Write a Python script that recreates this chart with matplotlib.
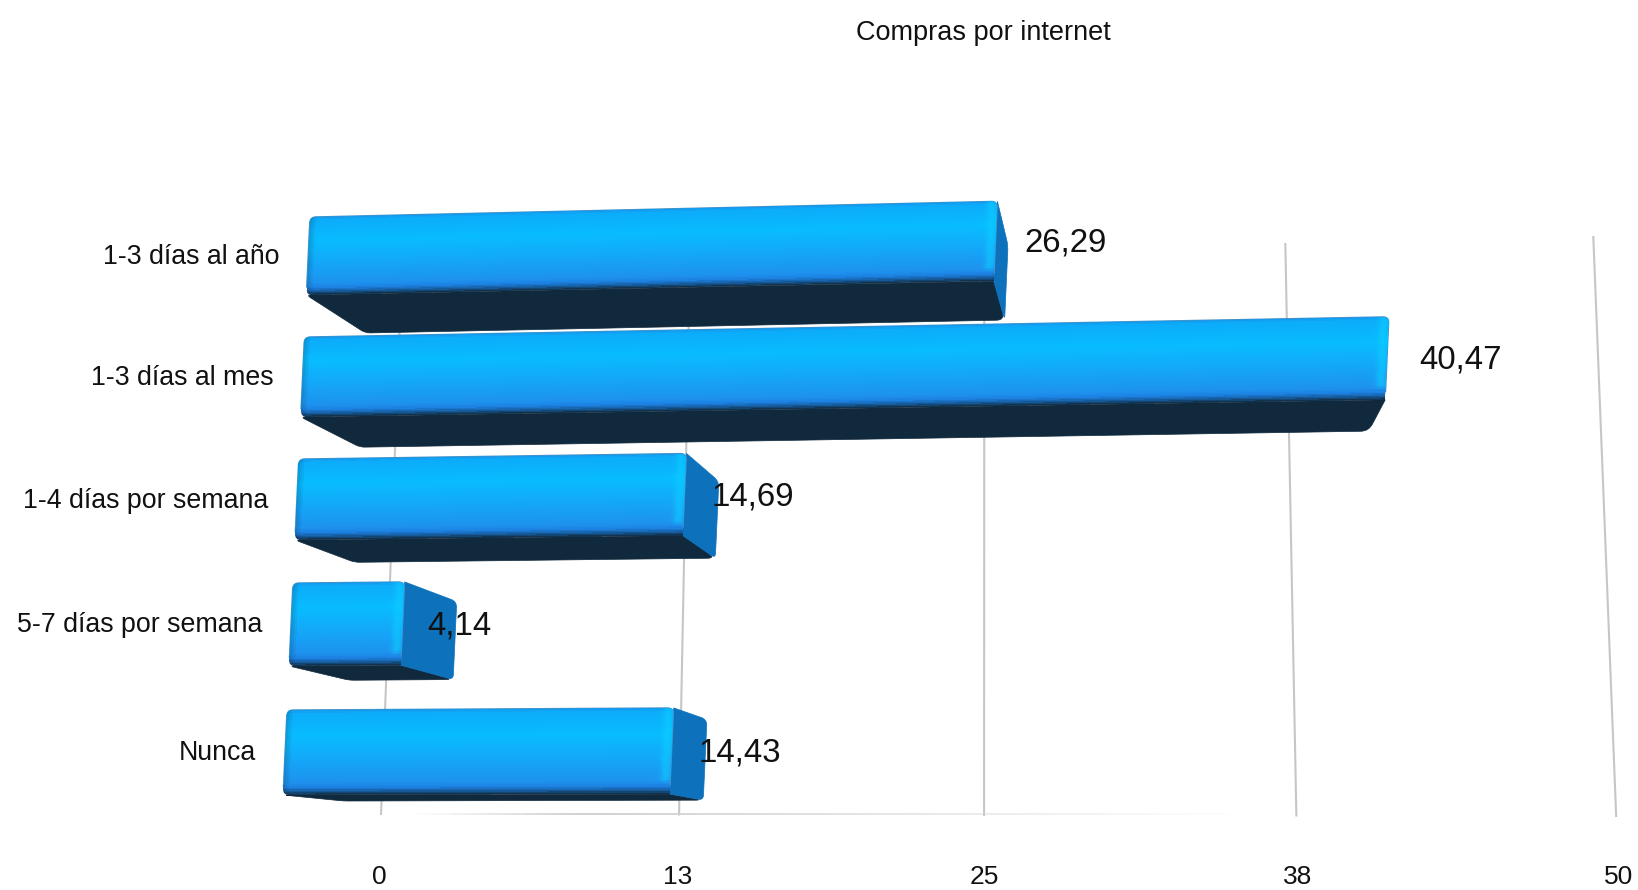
import numpy as np
import matplotlib
matplotlib.use("Agg")
import matplotlib.pyplot as plt
from matplotlib.path import Path
from matplotlib.patches import PathPatch
from matplotlib.collections import LineCollection

plt.rcParams['font.family'] = ['Liberation Sans', 'DejaVu Sans']

# Data
title = "Compras por internet"
categories = ["1-3 días al año", "1-3 días al mes", "1-4 días por semana",
              "5-7 días por semana", "Nunca"]
values = [26.29, 40.47, 14.69, 4.14, 14.43]
tick_values = [0, 12.5, 25, 37.5, 50]
tick_labels = ["0", "13", "25", "38", "50"]

W, H = 1638, 890

# Fake 3D camera: front plane of each bar, in pixels
row_top = [217, 337, 459, 583, 710]
row_bottom = [295, 417, 540, 666, 795]
px_per_unit = [26.15, 26.8, 26.4, 27.0, 26.8]
LEFT_X, LEFT_Y, LEAN = 283, 795, 0.0466
HORIZON_Y, HORIZON_D = 863, 28200
VANISH_X, VANISH_Y, DEPTH_X, DEPTH_Y = 1149, 889, 0.07, 0.064


def front(row, v, h):
    y0 = row_top[row] + (row_bottom[row] - row_top[row]) * h
    x0 = LEFT_X + (LEFT_Y - y0) * LEAN
    x = x0 + px_per_unit[row] * v
    y = HORIZON_Y + (y0 - HORIZON_Y) * (1 + (x - x0) / HORIZON_D)
    return x, y


def back(row, v, h):
    x, y = front(row, v, h)
    return x + DEPTH_X * (VANISH_X - x), y + DEPTH_Y * (VANISH_Y - y)


# Back wall with the value gridlines
def wall_bottom(v):
    return 381 + 23.57 * v / (1 - 0.000918 * v), 815 + 0.04 * v


def wall_top(v):
    xb, yb = wall_bottom(v)
    yt = 243 - (v - 37.5) * 0.56
    return xb + (990 - xb) * (yb - yt) * 6.3e-5, yt


def rounded_path(pts, radii):
    pts = [np.array(p, dtype=float) for p in pts]
    verts, codes = [], []
    n = len(pts)
    for i in range(n):
        p, prev, nxt = pts[i], pts[i - 1], pts[(i + 1) % n]
        d1 = (prev - p) / max(np.linalg.norm(prev - p), 1e-6)
        d2 = (nxt - p) / max(np.linalg.norm(nxt - p), 1e-6)
        verts.append(p + radii[i] * d1)
        codes.append(Path.MOVETO if i == 0 else Path.LINETO)
        verts += [p, p + radii[i] * d2]
        codes += [Path.CURVE3, Path.CURVE3]
    verts.append(verts[0])
    codes.append(Path.CLOSEPOLY)
    return Path(verts, codes)


# Vertical shading of the front face
shade_h = [0.0, 0.04, 0.30, 0.60, 0.85, 0.91, 0.96, 1.0]
shade_r = [22, 12, 8, 20, 30, 28, 22, 16]
shade_g = [150, 172, 188, 166, 146, 128, 88, 41]
shade_b = [235, 250, 255, 248, 238, 225, 150, 60]


def front_colors(length, hs, us):
    r = np.interp(hs, shade_h, shade_r)
    g = np.interp(hs, shade_h, shade_g)
    b = np.interp(hs, shade_h, shade_b)
    rgb = np.stack([np.outer(c, np.ones(len(us))) for c in (r, g, b)], axis=2)
    # darker bevel on the left, light rim on the right end
    px = us * length
    left = np.clip(1 - px / 7, 0, 1)[None, :, None]
    rgb = rgb * (1 - 0.16 * left)
    right = np.exp(-((length - px - 5) / 5) ** 2)[None, :, None]
    keep = np.clip((0.88 - hs) / 0.06, 0, 1)[:, None, None]
    rgb = rgb + (np.array([12, 205, 255]) - rgb) * 0.6 * right * keep
    return np.clip(rgb / 255, 0, 1)


fig = plt.figure(figsize=(W / 100, H / 100), dpi=100)
ax = fig.add_axes([0, 0, 1, 1])
ax.set_xlim(0, W)
ax.set_ylim(H, 0)
ax.axis("off")

# Gridlines and floor line
for v in tick_values:
    xb, yb = wall_bottom(v)
    xt, yt = wall_top(v)
    ax.plot([xb, xt], [yb, yt], color="#c6c6c6", lw=1.5, zorder=1,
            solid_capstyle="butt")

fade = np.linspace(1, 36, 70)
floor_x = np.array([wall_bottom(v)[0] for v in fade])
floor_y = 814 + 0.0 * fade
segs = [[(floor_x[i], floor_y[i]), (floor_x[i + 1], floor_y[i + 1])]
        for i in range(len(fade) - 1)]
alpha = np.minimum(np.linspace(0, 5, len(segs)), np.linspace(1.3, 0, len(segs))).clip(0, 1)
floor_cols = [(0.82, 0.82, 0.82, a) for a in alpha]
ax.add_collection(LineCollection(segs, colors=floor_cols, linewidths=1.4, zorder=1))

# Bars
for row, val in enumerate(values):
    # underside
    under = [front(row, 0, 1), front(row, val, 1), back(row, val, 1), back(row, 0, 1)]
    ax.add_patch(PathPatch(rounded_path(under, [5, 0, 8, 5]), facecolor="#10293c",
                           edgecolor="#10293c", lw=0.5, zorder=3))

    # end of the bar, hidden once the bar runs past the vanishing point
    if back(row, val, 0)[0] > front(row, val, 0)[0]:
        side = [front(row, val, 0), back(row, val, 0), back(row, val, 1), front(row, val, 1)]
        ax.add_patch(PathPatch(rounded_path(side, [0, 6, 5, 0]), facecolor="#0d71bb",
                               edgecolor="#0d71bb", lw=0.5, zorder=4))

    # soft edge under the front mesh
    edge = [front(row, 0, 0), front(row, val, 0), front(row, val, 0.9), front(row, 0, 0.9)]
    ax.add_patch(PathPatch(rounded_path(edge, [6, 6, 0, 0]), facecolor="#1e8ed6",
                           edgecolor="#3f93c9", lw=0.9, zorder=4.5))

    # front face as a fine mesh in the projected plane
    length = front(row, val, 0.5)[0] - front(row, 0, 0.5)[0]
    hs = np.linspace(0, 1, 61)
    us = np.linspace(0, 1, max(int(length / 2), 20) + 1)
    X = np.zeros((len(hs), len(us)))
    Y = np.zeros((len(hs), len(us)))
    for i, h in enumerate(hs):
        X[i], Y[i] = front(row, us * val, h)
    mid_h = (hs[:-1] + hs[1:]) / 2
    mid_u = (us[:-1] + us[1:]) / 2
    mesh = ax.pcolormesh(X, Y, front_colors(length, mid_h, mid_u), shading="flat",
                         antialiased=False, zorder=5)
    outline = rounded_path([front(row, 0, 0), front(row, val, 0),
                            front(row, val, 1), front(row, 0, 1)], [6, 6, 0, 6])
    mesh.set_clip_path(PathPatch(outline, transform=ax.transData))

    # labels tied to the bar ends
    lx, ly = front(row, 0, 0.5)
    ax.text(lx - 29, ly + 1, categories[row], ha="right", va="center",
            fontsize=19.3, color="#111111", zorder=8)
    ex, ey = front(row, val, 0.5)
    ax.text(ex + 24.5 + 0.0075 * (ex - 400), ey + 2, f"{val:.2f}".replace(".", ","),
            ha="left", va="center", fontsize=23.8, color="#111111", zorder=8)

# Tick labels
for v, lab in zip(tick_values, tick_labels):
    ax.text(wall_bottom(v)[0] - 2 + 0.08 * v, 884.5, lab, ha="center", va="baseline",
            fontsize=19, color="#111111")

ax.text(983, 33, title, ha="center", va="center", fontsize=19.5, color="#111111")

fig.savefig("out.png", dpi=100, facecolor="white")
